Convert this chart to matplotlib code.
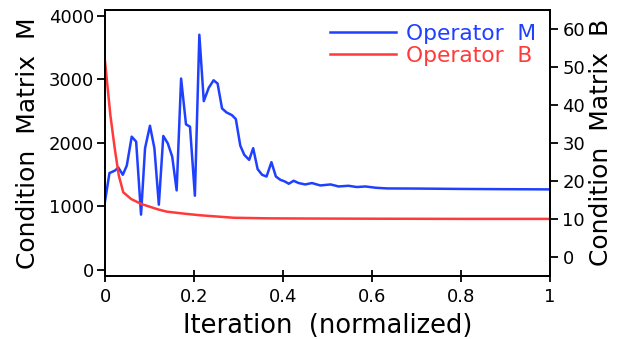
import matplotlib
matplotlib.use("Agg")
import matplotlib.pyplot as plt

# Operator M (left axis)
m_x = [0.000, 0.010, 0.0225, 0.030, 0.040, 0.049, 0.060, 0.070, 0.081, 0.090,
       0.101, 0.111, 0.121, 0.131, 0.141, 0.151, 0.161, 0.171, 0.182, 0.191,
       0.202, 0.212, 0.222, 0.233, 0.244, 0.253, 0.263, 0.273, 0.285, 0.294,
       0.304, 0.313, 0.324, 0.333, 0.343, 0.353, 0.363, 0.374, 0.384, 0.394,
       0.404, 0.413, 0.424, 0.435, 0.450, 0.465, 0.484, 0.507, 0.525, 0.547,
       0.566, 0.585, 0.608, 0.634, 0.700, 0.800, 0.900, 1.000]
m_y = [1076, 1522, 1562, 1609, 1495, 1641, 2096, 2017, 867, 1914,
       2268, 1914, 1024, 2107, 1992, 1782, 1249, 3012, 2290, 2253,
       1165, 3702, 2656, 2864, 2985, 2933, 2541, 2478, 2436, 2373,
       1955, 1809, 1730, 1914, 1584, 1495, 1468, 1694, 1468, 1416,
       1390, 1354, 1401, 1365, 1343, 1365, 1327, 1343, 1311, 1322,
       1302, 1311, 1291, 1280, 1278, 1272, 1268, 1265]

# Operator B (right axis)
b_x = [0.000, 0.012, 0.022, 0.031, 0.041, 0.059, 0.082, 0.119, 0.139, 0.176,
       0.214, 0.289, 0.364, 0.450, 0.600, 0.800, 1.000]
b_y = [51.4, 37.3, 28.4, 21.4, 17.0, 15.2, 13.9, 12.5, 11.9, 11.4,
       10.95, 10.3, 10.15, 10.1, 10.05, 10.0, 10.0]

left_ticks = [0, 1000, 2000, 3000, 4000]
right_ticks = [0, 10, 20, 30, 40, 50, 60]
x_ticks = [0, 0.2, 0.4, 0.6, 0.8, 1]
x_ticklabels = ["0", "0.2", "0.4", "0.6", "0.8", "1"]

blue = "#2040FF"
red = "#FF3A3A"

plt.rcParams['font.family'] = ['DejaVu Sans']
fig = plt.figure(figsize=(6.17, 3.39), dpi=100)
ax = fig.add_axes([105/617, 1-276/339, 445/617, (276-9.5)/339])
ax2 = ax.twinx()

l1, = ax.plot(m_x, m_y, color=blue, lw=1.8, label="Operator  M")
l2, = ax2.plot(b_x, b_y, color=red, lw=1.8, label="Operator  B")

ax.set_xlim(0, 1)
ax.set_ylim(-100, 4100)
ax2.set_ylim(-5, 65)
ax.set_yticks(left_ticks)
ax2.set_yticks(right_ticks)
ax.set_xticks(x_ticks)
ax.set_xticklabels(x_ticklabels)

ax.tick_params(axis='y', direction='out', length=6, width=1.3, labelsize=13, pad=2)
ax2.tick_params(axis='y', direction='out', length=6, width=1.3, labelsize=13, pad=3)
ax.tick_params(axis='x', direction='inout', length=9, width=1.3, labelsize=13, pad=4)
for a in (ax, ax2):
    for s in a.spines.values():
        s.set_linewidth(1.3)

ax.set_xlabel("Iteration  (normalized)", fontsize=18.5, labelpad=5)
ax.set_ylabel("Condition  Matrix  M", fontsize=18, labelpad=6)
ax2.set_ylabel("Condition  Matrix  B", fontsize=18, labelpad=3)

leg = ax.legend([l1, l2], ["Operator  M", "Operator  B"], loc="upper right",
                frameon=False, fontsize=15.7, handlelength=3.0, handletextpad=0.45,
                labelspacing=0.1, borderaxespad=0.25)
for t, c in zip(leg.get_texts(), [blue, red]):
    t.set_color(c)

fig.savefig("out.png", dpi=100)
